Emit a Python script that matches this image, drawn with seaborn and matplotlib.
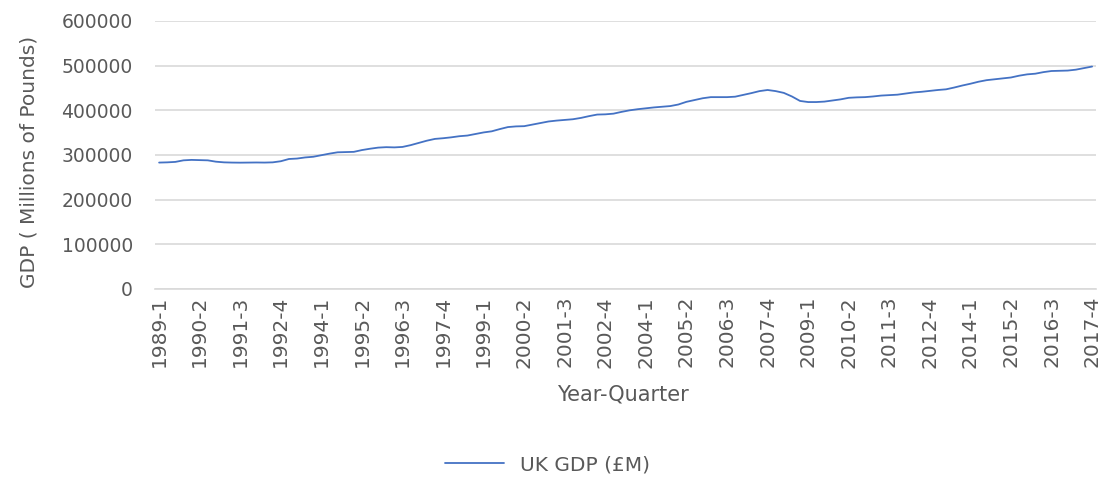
import numpy as np
import pandas as pd
import matplotlib
matplotlib.use("Agg")
import matplotlib.pyplot as plt
import seaborn as sns

# quarters 1989-1 .. 2017-4
years = list(range(1989, 2018))
quarters = [f"{y}-{q}" for y in years for q in range(1, 5)]

# UK GDP (£M)
gdp = [
    283000, 283500, 284500, 288000, 289000, 288500, 288000, 285000,
    283500, 283000, 282800, 283000, 283200, 283000, 283500, 286000,
    291000, 292000, 294500, 296000, 299500, 303000, 306000, 306500,
    307000, 311000, 314000, 316500, 317500, 317000, 318000, 322000,
    327000, 332000, 336000, 337500, 339500, 342000, 343500, 347000,
    350500, 353000, 358000, 362500, 364000, 364500, 368000, 371500,
    375000, 377000, 378500, 380000, 383000, 387000, 390500, 391000,
    392500, 396500, 400000, 402500, 404500, 406500, 408000, 409500,
    413000, 419000, 423000, 427000, 429500, 429500, 429500, 430500,
    434500, 438500, 443000, 445500, 443000, 439000, 431000, 421000,
    418500, 418500, 419500, 422000, 424500, 428000, 429000, 429500,
    431000, 433000, 434000, 435000, 437500, 440000, 441500, 443500,
    445500, 447000, 451000, 455500, 459500, 464000, 467500, 469500,
    471500, 473500, 477500, 480500, 482000, 485500, 488000, 488500,
    489000, 491000, 494500, 498000,
]

df = pd.DataFrame({"pos": range(len(quarters)), "quarter": quarters, "gdp": gdp})

sns.set_style("white")
plt.rcParams["font.family"] = ["DejaVu Sans"]
grey = "#595959"

fig = plt.figure(figsize=(11.02, 4.79), dpi=100)
ax = fig.add_axes([0.1407, 0.3967, 0.854, 0.5595])

sns.lineplot(data=df, x="pos", y="gdp", ax=ax, color="#4472c4", linewidth=1.3,
             label="UK GDP (£M)", legend=False)

ax.set_xlim(-0.5, len(quarters) - 0.5)
ax.set_ylim(0, 600000)
ax.set_yticks(range(0, 600001, 100000))
ax.set_yticklabels([str(v) for v in range(0, 600001, 100000)], fontsize=13.5, color=grey)
ax.set_xticks(df["pos"][::5])
ax.set_xticklabels(df["quarter"][::5], rotation=90, fontsize=14.5, color=grey)
ax.tick_params(axis="x", length=0, pad=5)
ax.tick_params(axis="y", length=0, pad=16)
ax.grid(axis="y", color="#d9d9d9", linewidth=1.2)
ax.set_axisbelow(True)
for s in ["top", "right", "left"]:
    ax.spines[s].set_visible(False)
ax.spines["bottom"].set_color("#d9d9d9")
ax.spines["bottom"].set_linewidth(1.2)

ax.set_xlabel("Year-Quarter", fontsize=15, color=grey)
ax.xaxis.set_label_coords(0.497, -0.355)
ax.set_ylabel("GDP ( Millions of Pounds)", fontsize=14.5, color=grey)
ax.yaxis.set_label_coords(-0.124, 0.474)

fig.legend(*ax.get_legend_handles_labels(), loc="center", bbox_to_anchor=(0.497, 0.03),
           frameon=False, fontsize=14.5, handlelength=2.9, labelcolor=grey)

fig.savefig("out.png", dpi=100)
